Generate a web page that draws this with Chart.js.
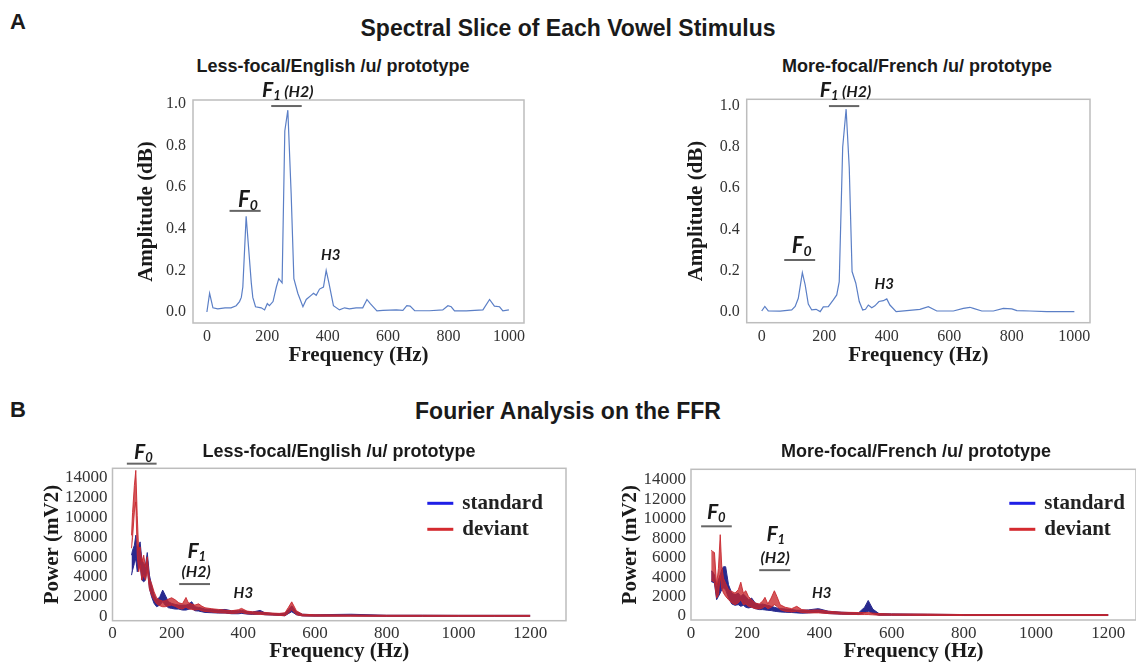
<!DOCTYPE html>
<html>
<head>
<meta charset="utf-8">
<title>Spectral Slice / Fourier Analysis</title>
<script src="https://cdn.jsdelivr.net/npm/chart.js@4.4.1/dist/chart.umd.min.js"></script>
<style>
  body { margin: 0; width: 1136px; height: 662px; background: #fff; position: relative; overflow: hidden;
         font-family: "Liberation Sans", Arial, sans-serif; color: #1a1a1a; }
  .t { position: absolute; font-weight: bold; white-space: nowrap; transform: translate(-50%, -50%); z-index: 2; }
  canvas { position: absolute; z-index: 1; }
</style>
</head>
<body>
<div class="t" style="left:18px;top:22px;font-size:22px">A</div>
<div class="t" style="left:568px;top:28px;font-size:23px">Spectral Slice of Each Vowel Stimulus</div>
<div class="t" style="left:333px;top:66px;font-size:18px">Less-focal/English /u/ prototype</div>
<div class="t" style="left:917px;top:66px;font-size:18px">More-focal/French /u/ prototype</div>
<div class="t" style="left:18px;top:410px;font-size:22px">B</div>
<div class="t" style="left:568px;top:411px;font-size:23px">Fourier Analysis on the FFR</div>
<div class="t" style="left:339px;top:451px;font-size:18px">Less-focal/English /u/ prototype</div>
<div class="t" style="left:916px;top:451px;font-size:18px">More-focal/French /u/ prototype</div>

<canvas id="specEnglish" width="420" height="290" style="left:120px;top:80px"></canvas>
<canvas id="specFrench" width="440" height="290" style="left:670px;top:80px"></canvas>
<canvas id="ffrEnglish" width="580" height="222" style="left:0px;top:440px"></canvas>
<canvas id="ffrFrench" width="556" height="222" style="left:580px;top:440px"></canvas>

<script>
// ---- A: spectral slice of each stimulus (Hz, amplitude) ----
const specFreqEnglish = [0, 9, 20, 36, 60, 80, 97, 108, 114, 119, 130, 138, 147, 152, 161, 180, 191, 200, 207, 219,
  230, 238, 249, 258, 268, 279, 288, 301, 318, 329, 345, 353, 362, 373, 386, 395, 404, 419, 439, 456,
  472, 494, 516, 530, 541, 563, 583, 627, 649, 662, 673, 688, 737, 781, 798, 809, 820, 859, 914, 936,
  952, 969, 980, 1000];
const specAmpEnglish = [0.0, 0.09, 0.02, 0.015, 0.02, 0.02, 0.03, 0.05, 0.07, 0.12, 0.46, 0.31, 0.14, 0.07, 0.025, 0.02, 0.01, 0.04, 0.03, 0.05,
  0.12, 0.16, 0.14, 0.87, 0.97, 0.57, 0.16, 0.09, 0.025, 0.06, 0.08, 0.09, 0.08, 0.11, 0.12, 0.20, 0.14, 0.03, 0.01, 0.02,
  0.015, 0.02, 0.02, 0.06, 0.04, 0.005, 0.008, 0.01, 0.008, 0.03, 0.028, 0.006, 0.006, 0.01, 0.03, 0.025, 0.005, 0.005, 0.01, 0.06,
  0.028, 0.025, 0.005, 0.01];

const specFreqFrench = [0, 10, 21, 59, 96, 107, 117, 130, 139, 149, 160, 174, 187, 197, 213, 229, 240, 248, 259, 270,
  280, 289, 301, 312, 323, 332, 341, 352, 362, 375, 389, 400, 410, 430, 464, 506, 533, 560, 613, 645,
  666, 677, 704, 741, 773, 800, 816, 858, 912, 1000];
const specAmpFrench = [0.003, 0.025, 0.003, 0.002, 0.008, 0.025, 0.065, 0.19, 0.13, 0.037, 0.008, 0.011, 0.0, 0.023, 0.024, 0.057, 0.081, 0.146, 0.80, 0.985,
  0.70, 0.195, 0.138, 0.049, 0.008, 0.011, 0.032, 0.019, 0.028, 0.049, 0.053, 0.062, 0.032, 0.0, 0.005, 0.011, 0.024, 0.003, 0.003, 0.016,
  0.021, 0.016, 0.003, 0.003, 0.016, 0.013, 0.005, 0.003, 0.0, 0.0];

const specFreqTicks = [0, 200, 400, 600, 800, 1000];
const specAmpTicks = [0, 0.2, 0.4, 0.6, 0.8, 1.0];

// ---- B: FFR power, band = lower/upper edge of each condition (mV2) ----
const ffrFreqEnglish = [88, 91, 96, 100, 104, 108, 112, 117, 122, 127, 132, 138, 144, 151, 158, 167, 175, 182, 191, 200,
  210, 220, 230, 240, 246, 256, 265, 275, 284, 293, 312, 330, 349, 367, 386, 395, 410, 425, 447, 460,
  480, 500, 516, 525, 535, 548, 565, 600, 700, 800, 900, 1000, 1100, 1200];
const stdUpperEnglish = [6200, 6700, 7200, 8210, 6870, 7200, 7540, 5700, 5360, 5190, 6465, 4190, 3180, 2180, 1675, 2010, 2680, 2180, 1510, 1340,
  1240, 1170, 1170, 1170, 1240, 1510, 1005, 940, 870, 770, 737, 670, 737, 603, 603, 636, 535, 470, 636, 400,
  335, 300, 350, 700, 1100, 500, 250, 200, 250, 150, 150, 140, 140, 140];
const stdLowerEnglish = [4190, 4690, 5360, 5860, 4520, 4860, 5190, 3685, 3520, 3685, 5025, 2850, 2010, 1340, 1005, 1170, 1510, 1170, 905, 840,
  770, 770, 670, 670, 737, 840, 603, 570, 500, 435, 400, 370, 370, 300, 300, 335, 268, 235, 268, 200,
  170, 135, 100, 300, 500, 200, 80, 60, 80, 40, 40, 40, 40, 40];
const devUpperEnglish = [8200, 10500, 13230, 14740, 10220, 6700, 7035, 5530, 6200, 5025, 6030, 3850, 3350, 2510, 1910, 1675, 1575, 1600, 1775, 1910,
  1700, 1400, 1300, 1940, 1440, 1270, 1170, 1300, 1070, 905, 805, 737, 670, 603, 703, 840, 570, 500, 470, 435,
  370, 335, 400, 900, 1500, 600, 250, 200, 180, 150, 150, 140, 140, 140];
const devLowerEnglish = [6900, 8000, 10550, 11560, 6200, 4520, 5190, 3685, 4190, 3685, 4690, 2780, 2180, 1675, 1300, 1100, 1005, 1005, 1100, 1170,
  1040, 840, 770, 970, 805, 737, 670, 737, 603, 535, 470, 400, 370, 335, 370, 435, 300, 268, 235, 200,
  170, 135, 100, 350, 700, 200, 80, 60, 50, 40, 40, 40, 40, 40];

const ffrFreqFrench = [100, 104, 109, 115, 120, 125, 129, 134, 140, 148, 157, 166, 175, 182, 189, 196, 203, 212, 222, 233,
  242, 249, 257, 266, 275, 282, 291, 305, 323, 337, 351, 369, 397, 425, 462, 508, 525, 535, 548, 565,
  600, 700, 800, 900, 1000, 1100, 1200];
const stdUpperFrench = [4630, 4560, 4220, 2870, 3720, 4220, 4740, 5070, 5070, 3210, 2360, 2190, 2360, 2020, 2260, 2020, 1680, 1850, 1340, 1170,
  1240, 1170, 1100, 1000, 900, 830, 760, 730, 660, 590, 590, 630, 760, 490, 390, 320, 900, 1600, 700, 250,
  220, 180, 150, 150, 150, 150, 150];
const stdLowerFrench = [3550, 3480, 3380, 1680, 2020, 2360, 2700, 2870, 2700, 1850, 1240, 1100, 1170, 1000, 1100, 900, 830, 900, 760, 660,
  660, 630, 590, 560, 490, 460, 420, 390, 360, 320, 290, 320, 390, 250, 190, 150, 350, 500, 250, 80,
  80, 60, 50, 50, 50, 50, 50];
const devUpperFrench = [6770, 6650, 6530, 3210, 4900, 8370, 5240, 3890, 3380, 2700, 2530, 2360, 2700, 3480, 2360, 2600, 2020, 1680, 1340, 1240,
  1510, 1920, 1240, 1850, 2600, 2020, 1170, 900, 760, 1000, 660, 590, 630, 490, 390, 360, 350, 350, 300, 250,
  220, 200, 150, 150, 150, 150, 150];
const devLowerFrench = [3700, 3600, 3500, 1850, 2190, 4220, 2870, 2360, 2020, 1680, 1340, 1170, 1340, 1680, 1170, 1240, 1000, 900, 760, 730,
  830, 1000, 760, 900, 1170, 1000, 660, 490, 420, 490, 360, 320, 320, 250, 190, 150, 150, 150, 120, 80,
  80, 60, 50, 50, 50, 50, 50];

const ffrFreqTicks = [0, 200, 400, 600, 800, 1000, 1200];
const ffrPowerTicks = [0, 2000, 4000, 6000, 8000, 10000, 12000, 14000];
const legendNames = ['standard', 'deviant'];

const serif = '"Liberation Serif", "Times New Roman", serif';
const noteFont = 'Lato, "Open Sans", sans-serif';
const navy = '#28298e';
const red = 'rgba(200, 38, 44, 0.78)';
const redLine = 'rgba(200, 38, 44, 0.88)';

const pts = (xs, ys) => xs.map((x, i) => ({ x, y: ys[i] }));

// grey box round the plot area
const framePlugin = {
  id: 'frame',
  beforeDatasetsDraw(chart) {
    const { ctx, chartArea: a } = chart;
    ctx.save();
    ctx.strokeStyle = '#bdbdbd';
    ctx.lineWidth = 1.5;
    ctx.strokeRect(a.left, a.top, a.right - a.left, a.bottom - a.top);
    ctx.restore();
  }
};

// F0 / F1 (H2) / H3 labels and their bars, placed in data units
const notesPlugin = {
  id: 'notes',
  afterDatasetsDraw(chart, args, opts) {
    const { ctx } = chart;
    const sx = chart.scales.x, sy = chart.scales.y;
    ctx.save();
    ctx.strokeStyle = '#666';
    ctx.lineWidth = 2;
    (opts.lines || []).forEach(l => {
      const y = sy.getPixelForValue(l.y);
      ctx.beginPath();
      ctx.moveTo(sx.getPixelForValue(l.x1), y);
      ctx.lineTo(sx.getPixelForValue(l.x2), y);
      ctx.stroke();
    });
    ctx.fillStyle = '#1a1a1a';
    ctx.textBaseline = 'alphabetic';
    ctx.textAlign = 'left';
    (opts.labels || []).forEach(lb => {
      const parts = [{ t: lb.main, size: lb.size, dy: 0 }];
      if (lb.sub) parts.push({ t: lb.sub, size: Math.round(lb.size * 0.62), dy: lb.size * 0.14 });
      if (lb.tail) parts.push({ t: lb.tail, size: lb.tailSize, dy: 0 });
      let w = 0;
      parts.forEach(p => { ctx.font = `italic bold ${p.size}px ${noteFont}`; p.w = ctx.measureText(p.t).width; w += p.w; });
      let x = sx.getPixelForValue(lb.x) - w / 2;
      const y = sy.getPixelForValue(lb.y);
      parts.forEach(p => {
        ctx.font = `italic bold ${p.size}px ${noteFont}`;
        ctx.fillText(p.t, x, y + p.dy);
        x += p.w;
      });
    });
    ctx.restore();
  }
};

// legend inside the plot, top right
const bandLegend = {
  id: 'bandLegend',
  afterDraw(chart, args, opts) {
    if (!opts.items) return;
    const { ctx, chartArea } = chart;
    ctx.save();
    opts.items.forEach((it, i) => {
      const x = chartArea.right - opts.right;
      const y = chartArea.top + opts.top + i * 26;
      ctx.strokeStyle = it.color;
      ctx.lineWidth = 3;
      ctx.beginPath(); ctx.moveTo(x, y); ctx.lineTo(x + 26, y); ctx.stroke();
      ctx.fillStyle = '#222';
      ctx.font = `bold 21px ${serif}`;
      ctx.textBaseline = 'middle';
      ctx.fillText(it.text, x + 35, y);
    });
    ctx.restore();
  }
};

function axisTitle(text, pad, lh) {
  return { display: true, text, color: '#1a1a1a', padding: pad,
           font: { family: serif, size: 21, weight: 'bold', lineHeight: lh } };
}

function makeChart(id, g, datasets) {
  return new Chart(document.getElementById(id), {
    type: 'line',
    data: { datasets },
    options: {
      responsive: false,
      animation: false,
      layout: { padding: g.pad },
      elements: { point: { radius: 0 }, line: { tension: 0 } },
      scales: {
        x: {
          type: 'linear', min: g.xMin, max: g.xMax,
          afterBuildTicks: s => { s.ticks = g.xTicks.map((v, i) => ({ value: i === 0 && g.firstAtMin ? s.min : v })); },
          afterFit: s => { s.height = g.xh; },
          grid: { display: false, drawTicks: false }, border: { display: false },
          ticks: { font: { family: serif, size: g.tickSize }, color: '#333', padding: g.xPad,
                   maxRotation: 0, autoSkip: false, callback: (v, i) => String(g.xTicks[i]) },
          title: axisTitle('Frequency (Hz)', g.xTitlePad, g.xTitleLh)
        },
        y: {
          min: g.yMin, max: g.yMax,
          afterBuildTicks: s => { s.ticks = g.yTicks.map(v => ({ value: v })); },
          afterFit: s => { s.width = g.yw; },
          grid: { display: false, drawTicks: false }, border: { display: false },
          ticks: { font: { family: serif, size: g.tickSize }, color: '#333', padding: g.yPad,
                   autoSkip: false, callback: g.yLabel },
          title: axisTitle(g.yTitle, { top: g.yTitlePad, bottom: 0 }, 1.2)
        }
      },
      plugins: {
        legend: { display: false },
        tooltip: { enabled: false },
        notes: g.notes,
        bandLegend: g.legend || {}
      }
    },
    plugins: [framePlugin, notesPlugin, bandLegend]
  });
}

const specLine = (xs, ys) => ({ data: pts(xs, ys), borderColor: '#5b7fc6', borderWidth: 1.2, fill: false });
const bandEdges = (xs, up, lo, line, fillColor) => [
  { data: pts(xs, up), borderColor: line, borderWidth: 1, fill: false },
  { data: pts(xs, lo), borderColor: line, borderWidth: 1, backgroundColor: fillColor, fill: '-1' }
];
const legendItems = [{ text: legendNames[0], color: '#1f1fe6' }, { text: legendNames[1], color: '#d42a2f' }];

makeChart('specEnglish', {
  pad: { left: 0, top: 20, right: 16, bottom: 0 }, xh: 47, yw: 73, tickSize: 16, xPad: 4, yPad: 7,
  xMin: -46, xMax: 1050, xTicks: specFreqTicks, xTitlePad: { top: 0, bottom: 2 }, xTitleLh: 1.2,
  yMin: -0.053, yMax: 1.019, yTicks: specAmpTicks, yLabel: v => v.toFixed(1), yTitle: 'Amplitude (dB)', yTitlePad: 14,
  notes: {
    labels: [
      { x: 136, y: 0.505, main: 'F', sub: '0', size: 22 },
      { x: 268, y: 1.035, main: 'F', sub: '1', tail: ' (H2)', size: 21, tailSize: 16 },
      { x: 410, y: 0.252, main: 'H3', size: 15 }
    ],
    lines: [{ x1: 75, x2: 178, y: 0.486 }, { x1: 213, x2: 314, y: 0.99 }]
  }
}, [specLine(specFreqEnglish, specAmpEnglish)]);

makeChart('specFrench', {
  pad: { left: 0, top: 19.3, right: 20, bottom: 0 }, xh: 47.3, yw: 76.7, tickSize: 16, xPad: 4, yPad: 7,
  xMin: -48, xMax: 1050, xTicks: specFreqTicks, xTitlePad: { top: 0, bottom: 2 }, xTitleLh: 1.2,
  yMin: -0.054, yMax: 1.033, yTicks: specAmpTicks, yLabel: v => v.toFixed(1), yTitle: 'Amplitude (dB)', yTitlePad: 14,
  notes: {
    labels: [
      { x: 128, y: 0.285, main: 'F', sub: '0', size: 22 },
      { x: 268, y: 1.045, main: 'F', sub: '1', tail: ' (H2)', size: 21, tailSize: 16 },
      { x: 392, y: 0.112, main: 'H3', size: 15 }
    ],
    lines: [{ x1: 72, x2: 171, y: 0.251 }, { x1: 215, x2: 312, y: 1.0 }]
  }
}, [specLine(specFreqFrench, specAmpFrench)]);

// deviant first so that it is drawn on top of standard
makeChart('ffrEnglish', {
  pad: { left: 0, top: 28.3, right: 14, bottom: 0 }, xh: 41.3, yw: 112.5, tickSize: 17, xPad: 3, yPad: 5,
  xMin: 35, xMax: 1300, xTicks: ffrFreqTicks, firstAtMin: true, xTitlePad: 0, xTitleLh: 1.0,
  yMin: -400, yMax: 14950, yTicks: ffrPowerTicks, yLabel: v => String(v), yTitle: 'Power (mV2)', yTitlePad: 40,
  notes: {
    labels: [
      { x: 121, y: 15920, main: 'F', sub: '0', size: 21 },
      { x: 270, y: 5870, main: 'F', sub: '1', size: 21 },
      { x: 268, y: 4020, main: '(H2)', size: 16 },
      { x: 400, y: 1850, main: 'H3', size: 15 }
    ],
    lines: [{ x1: 75, x2: 158, y: 15417 }, { x1: 221, x2: 307, y: 3290 }]
  },
  legend: { items: legendItems, right: 138.7, top: 35 }
}, [...bandEdges(ffrFreqEnglish, devUpperEnglish, devLowerEnglish, redLine, red),
    ...bandEdges(ffrFreqEnglish, stdUpperEnglish, stdLowerEnglish, navy, navy)]);

makeChart('ffrFrench', {
  pad: { left: 0, top: 29.3, right: 0, bottom: 0 }, xh: 42, yw: 111, tickSize: 17, xPad: 3, yPad: 5,
  xMin: 44, xMax: 1277, xTicks: ffrFreqTicks, firstAtMin: true, xTitlePad: 0, xTitleLh: 1.0,
  yMin: -410, yMax: 15097, yTicks: ffrPowerTicks, yLabel: v => String(v), yTitle: 'Power (mV2)', yTitlePad: 38,
  notes: {
    labels: [
      { x: 114, y: 9946, main: 'F', sub: '0', size: 21 },
      { x: 279, y: 7723, main: 'F', sub: '1', size: 21 },
      { x: 277, y: 5405, main: '(H2)', size: 16 },
      { x: 406, y: 1877, main: 'H3', size: 15 }
    ],
    lines: [{ x1: 72, x2: 157, y: 9230 }, { x1: 233, x2: 319, y: 4718 }]
  },
  legend: { items: legendItems, right: 126.7, top: 34 }
}, [...bandEdges(ffrFreqFrench, devUpperFrench, devLowerFrench, redLine, red),
    ...bandEdges(ffrFreqFrench, stdUpperFrench, stdLowerFrench, navy, navy)]);
</script>
</body>
</html>
